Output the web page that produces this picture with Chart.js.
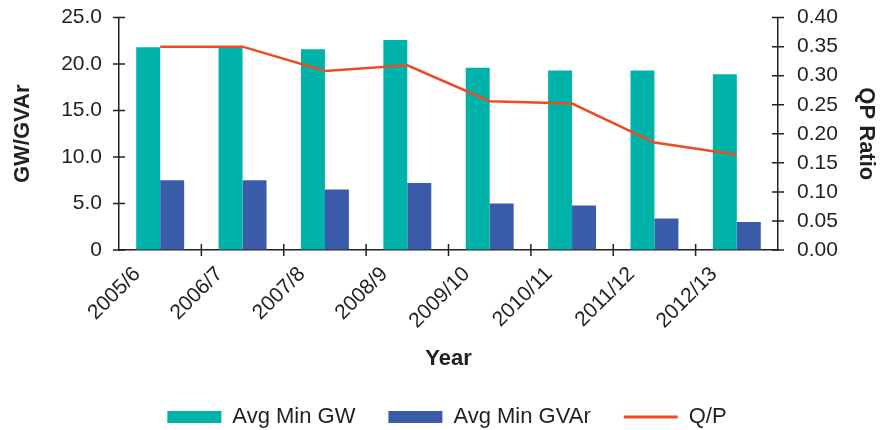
<!DOCTYPE html>
<html>
<head>
<meta charset="utf-8">
<script src="https://cdn.jsdelivr.net/npm/chart.js@4/dist/chart.umd.min.js"></script>
<style>
  html, body { margin: 0; padding: 0; background: #fff; }
</style>
</head>
<body>
<canvas id="chart" width="884" height="430"></canvas>
<script>
// data
const years = ['2005/6', '2006/7', '2007/8', '2008/9', '2009/10', '2010/11', '2011/12', '2012/13'];
const avgMinGW = [21.8, 21.8, 21.6, 22.6, 19.6, 19.3, 19.3, 18.9];
const avgMinGVAr = [7.5, 7.5, 6.5, 7.2, 5.0, 4.8, 3.4, 3.0];
const qpRatio = [0.35, 0.35, 0.308, 0.318, 0.256, 0.252, 0.185, 0.164];

const TEAL = '#00b3aa';
const BLUE = '#3a5ba8';
const RED = '#ee4a24';
const INK = '#231f20';
const FONT = 'Liberation Sans, Arial, sans-serif';

// axis ticks that cross the axis line
const crossTicks = {
  id: 'crossTicks',
  afterDraw(chart) {
    const ctx = chart.ctx;
    const x = chart.scales.x, yl = chart.scales.y, yr = chart.scales.y1;
    const half = 6;
    ctx.save();
    ctx.strokeStyle = INK;
    ctx.lineWidth = 1.5;
    ctx.beginPath();
    yl.ticks.forEach((t, i) => {
      const py = yl.getPixelForTick(i);
      ctx.moveTo(yl.right - half, py); ctx.lineTo(yl.right + half, py);
    });
    yr.ticks.forEach((t, i) => {
      const py = yr.getPixelForTick(i);
      ctx.moveTo(yr.left - half, py); ctx.lineTo(yr.left + half, py);
    });
    for (let i = 1; i < years.length; i++) {
      const px = x.getPixelForValue(i - 0.5);
      ctx.moveTo(px, x.top - half); ctx.lineTo(px, x.top + half);
    }
    ctx.stroke();
    ctx.restore();
  }
};

// push the legend a bit lower / right than chart.js puts it
const legendShift = {
  id: 'legendShift',
  afterLayout(chart) {
    chart.legend.top += 8;
    chart.legend.bottom += 8;
    chart.legend.left += 5;
    chart.legend.right += 5;
  }
};

// hidden tick marks, only used to space the labels away from the axis
const yGrid = {
  display: true,
  drawOnChartArea: false,
  drawTicks: true,
  tickLength: 14,
  tickColor: 'rgba(0,0,0,0)'
};

const ctx = document.getElementById('chart').getContext('2d');
new Chart(ctx, {
  data: {
    labels: years,
    datasets: [
      {
        type: 'line',
        label: 'Q/P',
        data: qpRatio,
        yAxisID: 'y1',
        borderColor: RED,
        backgroundColor: RED,
        borderWidth: 2.5,
        pointRadius: 0,
        tension: 0,
        order: 0
      },
      {
        type: 'bar',
        label: 'Avg Min GW',
        data: avgMinGW,
        yAxisID: 'y',
        backgroundColor: TEAL,
        order: 1
      },
      {
        type: 'bar',
        label: 'Avg Min GVAr',
        data: avgMinGVAr,
        yAxisID: 'y',
        backgroundColor: BLUE,
        order: 2
      }
    ]
  },
  options: {
    responsive: false,
    animation: false,
    maintainAspectRatio: false,
    datasets: {
      bar: { categoryPercentage: 0.582, barPercentage: 1.0 }
    },
    layout: { padding: { top: 16, left: 0, right: 0, bottom: 0 } },
    plugins: {
      tooltip: { enabled: false },
      legend: {
        position: 'bottom',
        labels: {
          color: INK,
          font: { family: FONT, size: 22 },
          usePointStyle: true,
          pointStyleWidth: 54,
          boxHeight: 12,
          padding: 33,
          sort: (a, b) => {
            const order = { 'Avg Min GW': 0, 'Avg Min GVAr': 1, 'Q/P': 2 };
            return order[a.text] - order[b.text];
          },
          generateLabels(chart) {
            const items = Chart.defaults.plugins.legend.labels.generateLabels(chart);
            items.forEach(it => {
              const ds = chart.data.datasets[it.datasetIndex];
              if (ds.type === 'line') {
                it.pointStyle = 'line';
                it.lineWidth = 3;
                it.strokeStyle = RED;
              } else {
                it.pointStyle = 'rect';
                it.lineWidth = 0;
              }
            });
            return items;
          }
        }
      }
    },
    scales: {
      x: {
        grid: { display: false, drawTicks: false },
        border: { display: true, color: INK, width: 1.5 },
        ticks: {
          color: INK,
          font: { family: FONT, size: 21 },
          minRotation: 45,
          maxRotation: 45,
          autoSkip: false,
          padding: 12,
          labelOffset: -23
        },
        title: {
          display: true,
          text: 'Year',
          color: INK,
          font: { family: FONT, size: 22, weight: 'bold' },
          padding: { top: 0, bottom: -7 }
        },
        afterFit(scale) { scale.height = 115; }
      },
      y: {
        position: 'left',
        min: 0,
        max: 25,
        grid: yGrid,
        border: { display: true, color: INK, width: 1.5 },
        ticks: {
          stepSize: 5,
          autoSkip: false,
          color: INK,
          font: { family: FONT, size: 21 },
          padding: 3,
          callback: v => v === 0 ? '0' : v.toFixed(1)
        },
        title: {
          display: true,
          text: 'GW/GVAr',
          color: INK,
          font: { family: FONT, size: 22, weight: 'bold' },
          padding: { top: 10, bottom: 0 }
        },
        afterFit(scale) { scale.width = 119; }
      },
      y1: {
        position: 'right',
        min: 0,
        max: 0.4,
        grid: yGrid,
        border: { display: true, color: INK, width: 1.5 },
        ticks: {
          stepSize: 0.05,
          autoSkip: false,
          color: INK,
          font: { family: FONT, size: 21 },
          padding: 5,
          callback: v => v.toFixed(2)
        },
        title: {
          display: true,
          text: 'QP Ratio',
          color: INK,
          font: { family: FONT, size: 22, weight: 'bold' },
          padding: { top: 5, bottom: 0 }
        },
        afterFit(scale) { scale.width = 106; }
      }
    }
  },
  plugins: [crossTicks, legendShift]
});
</script>
</body>
</html>
